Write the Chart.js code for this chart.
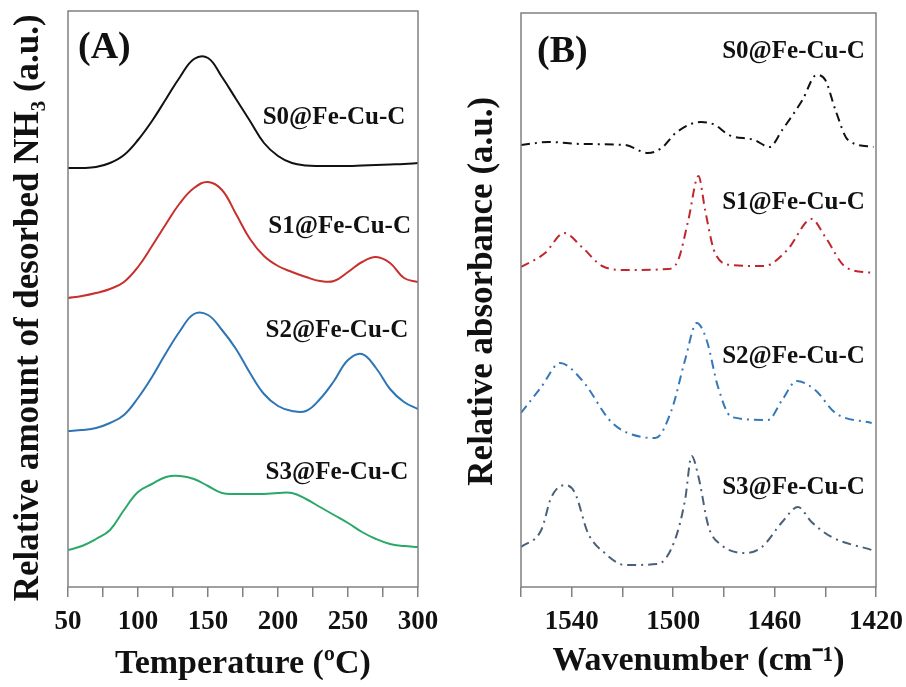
<!DOCTYPE html>
<html>
<head>
<meta charset="utf-8">
<script src="https://cdn.jsdelivr.net/npm/chart.js@4.4.1/dist/chart.umd.min.js"></script>
<style>
  body { margin: 0; background: #fff; }
  #wrap { position: relative; width: 906px; height: 687px; }
  canvas { position: absolute; top: 0; }
</style>
</head>
<body>
<div id="wrap">
  <canvas id="tpd" width="450" height="687" style="left:0"></canvas>
  <canvas id="ftir" width="456" height="687" style="left:450px"></canvas>
</div>
<script>
// (A) NH3-TPD, relative amount (a.u.)
const temps = [50,60,70,80,90,100,110,120,130,140,150,160,170,180,190,200,210,220,230,240,250,260,270,280,290,300];
const tpdS0 = [419,419,420,424,432,447,466,488,510,528,529,510,488,466,444,431,424,421.5,421,421,421,421.5,422,422.5,423,424];
const tpdS1 = [289,291,294,298,305,320,341,363,384,399,405,397,373,348,331,321,315,310,306,306,315,325,330,324,309,305];
const tpdS2 = [156,157,159,164,172,189,210,234,256,273,272,257,238,214,193,181,176,176,188,206,227,233,219,198,185,178];
const tpdS3 = [37,41,48,57,77,95,103,110,111,108,101,94,93,93,93,94,94,88,80,72,64,55,48,43,41,40];

// (B) FTIR, relative absorbance (a.u.)
const wnS0 = [1560,1549,1536,1519,1510,1504.5,1499,1489,1483.5,1478,1468,1462,1457,1449,1443.5,1440,1436,1431,1421];
const absS0 = [442,445,443,442,434,439,454,465,462,452,447,440,457,487,512,507,477,447,440];
const wnS1 = [1560,1550.5,1543,1536,1528,1519,1502,1498,1494,1490,1487.4,1483.5,1477,1464,1455,1445.4,1440,1432,1421];
const absS1 = [320,334,354,340,321,317,318,327,367,411,377,334,322,321,337,368,350,320,314];
const wnS2 = [1560,1552,1544.6,1536,1524,1512.4,1507,1500.6,1495.3,1490.7,1486.8,1482.3,1477,1462.6,1457,1451.3,1444,1436,1421.7];
const absS2 = [174,200,224,207,164,150,149,177,227,264,247,200,170,167,187,206,197,174,164];
const wnS3 = [1560,1552,1548,1542.6,1538.7,1533.6,1527,1519,1506,1499.3,1495.3,1492.7,1490,1486,1481,1471.7,1465,1457,1450.8,1445.4,1437.5,1421.7];
const absS3 = [40,57,90,102,94,54,34,22,23,47,87,131,110,60,42,34,40,65,80,65,50,37];

const sampleNames = ['S0@Fe-Cu-C','S1@Fe-Cu-C','S2@Fe-Cu-C','S3@Fe-Cu-C'];

const serif = '"Liberation Serif", "Times New Roman", serif';
Chart.defaults.font.family = serif;
Chart.defaults.font.weight = 'bold';
Chart.defaults.color = '#111';

// frame + panel letter + sample names
const panelDeco = {
  id: 'panelDeco',
  afterDatasetsDraw(chart, args, opts) {
    const { ctx, chartArea: a, scales } = chart;
    ctx.save();
    ctx.strokeStyle = '#808080';
    ctx.lineWidth = 1.5;
    ctx.strokeRect(a.left, a.top, a.right - a.left, a.bottom - a.top);
    ctx.fillStyle = '#111';
    ctx.textBaseline = 'middle';
    ctx.font = 'bold 38px ' + serif;
    ctx.textAlign = 'left';
    ctx.fillText(opts.letter, a.left + opts.letterDx, a.top + opts.letterDy);
    ctx.font = 'bold 25px ' + serif;
    ctx.textAlign = 'right';
    opts.labels.forEach((p, i) => {
      ctx.fillText(sampleNames[i], scales.x.getPixelForValue(p[0]), scales.y.getPixelForValue(p[1]));
    });
    ctx.restore();
  }
};

function xScale(min, max, step, labelEvery, reverse, title, padBottom) {
  return {
    type: 'linear', min, max, reverse,
    ticks: {
      stepSize: step, padding: 9, autoSkip: false, maxRotation: 0,
      font: { size: 27, weight: 'bold' }, color: '#111',
      callback: v => ((v - min) % labelEvery === 0 ? v : '')
    },
    grid: { drawOnChartArea: false, tickLength: 10, color: '#808080', lineWidth: 1.5 },
    border: { display: false },
    title: { display: true, text: title, font: { size: 34, weight: 'bold' }, color: '#111', padding: { top: 0, bottom: padBottom } },
    // fixed height, and let end labels hang into the page margin
    afterFit: s => { s.height = 100; s.paddingLeft = 0; s.paddingRight = 0; }
  };
}

function yScale(max, title, padTop, width) {
  return {
    min: 0, max,
    ticks: { display: false },
    grid: { display: false },
    border: { display: false },
    title: { display: true, text: title, font: { size: 35, weight: 'bold' }, color: '#111', padding: { top: padTop, bottom: 0 } },
    afterFit: s => { s.width = width; }
  };
}

function line(data, color, dashed) {
  return {
    data, borderColor: color, borderWidth: 2, pointRadius: 0, fill: false,
    borderDash: dashed ? [9, 5, 2, 5] : [],
    tension: dashed ? 0 : 0.4,
    cubicInterpolationMode: dashed ? 'monotone' : 'default'
  };
}

const xy = (xs, ys) => xs.map((x, i) => ({ x, y: ys[i] }));

new Chart(document.getElementById('tpd'), {
  type: 'line',
  data: {
    datasets: [
      line(xy(temps, tpdS0), '#111111', false),
      line(xy(temps, tpdS1), '#c8302c', false),
      line(xy(temps, tpdS2), '#2e75b6', false),
      line(xy(temps, tpdS3), '#2aa86a', false)
    ]
  },
  options: {
    responsive: false, devicePixelRatio: 1, animation: false,
    layout: { padding: { top: 11, right: 32, left: 0, bottom: 0 } },
    plugins: {
      legend: { display: false }, tooltip: { enabled: false },
      panelDeco: { letter: '(A)', letterDx: 10, letterDy: 37,
        labels: [[291, 469], [295, 360], [293, 256], [293, 114]] }
    },
    scales: {
      x: xScale(50, 300, 25, 50, false, 'Temperature (ºC)', 2),
      y: yScale(576, 'Relative amount of desorbed NH₃ (a.u.)\u2002', 8, 68)
    }
  },
  plugins: [panelDeco]
});

new Chart(document.getElementById('ftir'), {
  type: 'line',
  data: {
    datasets: [
      line(xy(wnS0, absS0), '#111111', true),
      line(xy(wnS1, absS1), '#c0272d', true),
      line(xy(wnS2, absS2), '#3578b8', true),
      line(xy(wnS3, absS3), '#4a6079', true)
    ]
  },
  options: {
    responsive: false, devicePixelRatio: 1, animation: false,
    layout: { padding: { top: 13, right: 30, left: 0, bottom: 0 } },
    plugins: {
      legend: { display: false }, tooltip: { enabled: false },
      panelDeco: { letter: '(B)', letterDx: 16, letterDy: 39,
        labels: [[1424.4, 535], [1424.4, 384], [1424.4, 230], [1424.4, 99]] }
    },
    scales: {
      x: xScale(1420, 1560, 20, 40, true, 'Wavenumber (cm⁻¹)', 5),
      y: yScale(574, '\u2002Relative absorbance (a.u.)', 12, 71)
    }
  },
  plugins: [panelDeco]
});
</script>
</body>
</html>
